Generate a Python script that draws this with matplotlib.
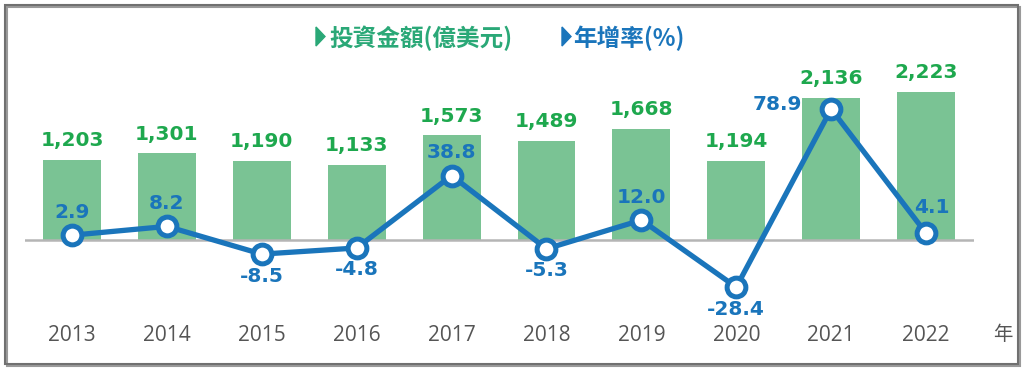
import matplotlib
matplotlib.use("Agg")
import matplotlib.pyplot as plt
from matplotlib.patches import Rectangle, Polygon

plt.rcParams['font.family'] = ['Noto Sans CJK TC', 'DejaVu Sans']

years = ['2013', '2014', '2015', '2016', '2017', '2018', '2019', '2020', '2021', '2022']
invest = [1203, 1301, 1190, 1133, 1573, 1489, 1668, 1194, 2136, 2223]
growth = [2.9, 8.2, -8.5, -4.8, 38.8, -5.3, 12.0, -28.4, 78.9, 4.1]
legend_labels = ['投資金額(億美元)', '年增率(%)']
unit_label = '年'

W, H = 1024, 371
fig = plt.figure(figsize=(W / 100, H / 100), dpi=100, facecolor='white')

BAR_C = '#7ac394'
BAR_TXT = '#1ea84e'
LINE_C = '#1a75bb'
LEG_G = '#2aa877'
YEAR_C = '#555555'


def fx(px):
    return px / W


def fy(py):
    return 1 - py / H


# frame with shadow
fig.patches.append(Rectangle((fx(7), fy(366)), 1013 / W, 359 / H,
                             transform=fig.transFigure, fill=False,
                             edgecolor='#9a9a9a', lw=1.5, zorder=0))
fig.patches.append(Rectangle((fx(5), fy(364)), 1013 / W, 359 / H,
                             transform=fig.transFigure, fill=False,
                             edgecolor='#707070', lw=1.5, zorder=0))

ax_l, ax_r = 24.6, 973.5
ax_t, ax_b = 60, 300
ax = fig.add_axes([fx(ax_l), fy(ax_b), (ax_r - ax_l) / W, (ax_b - ax_t) / H])
ax.patch.set_alpha(0)
bar_scale = 15.02
ax.set_ylim(-(ax_b - 240) * bar_scale, (240 - ax_t) * bar_scale)
ax.set_xlim(-0.5, len(years) - 0.5)
x = list(range(len(years)))
ax.bar(x, invest, width=0.61, color=BAR_C, zorder=1)
ax.axhline(0, color='#b5b5b5', lw=1.8, zorder=2)
for xi, v in zip(x, invest):
    ax.annotate(f'{v:,}', (xi, v), xytext=(0, 7), textcoords='offset points',
                ha='center', va='bottom', color=BAR_TXT, fontsize=14.5,
                fontweight='bold', family='DejaVu Sans')
ax.set_xticks(x)
ax.set_xticklabels(years, fontsize=15, color=YEAR_C, family='Open Sans')
ax.tick_params(axis='x', length=0, pad=18)
ax.set_yticks([])
for s in ax.spines.values():
    s.set_visible(False)

ax2 = ax.twinx()
ax2.patch.set_alpha(0)
line_scale = 1 / 1.66
ax2.set_ylim(-(ax_b - 240) * line_scale, (240 - ax_t) * line_scale)
ax2.plot(x, growth, color=LINE_C, lw=3.8, marker='o', markersize=13.5,
         markerfacecolor='white', markeredgecolor=LINE_C, markeredgewidth=3.6, zorder=5)
ax2.set_yticks([])
for s in ax2.spines.values():
    s.set_visible(False)
for i, (xi, v) in enumerate(zip(x, growth)):
    kw = dict(textcoords='offset points', color=LINE_C, fontsize=14.5,
              fontweight='bold', family='DejaVu Sans')
    if i == 8:
        ax2.annotate(f'{v:.1f}', (xi, v), xytext=(-21, 3), ha='right', va='center', **kw)
    elif v >= 0:
        dy = 12 if i == 9 else 9.5
        dx = 4 if i == 9 else 0
        ax2.annotate(f'{v:.1f}', (xi, v), xytext=(dx, dy), ha='center', va='bottom', **kw)
    else:
        ax2.annotate(f'{v:.1f}', (xi, v), xytext=(0, -9), ha='center', va='top', **kw)

fig.text(fx(1003), fy(334), unit_label, ha='center', va='center',
         fontsize=14, color=YEAR_C)

# legend
fig.patches.append(Polygon([(fx(316), fy(27)), (fx(316), fy(46)), (fx(325), fy(36.5))],
                           closed=True, transform=fig.transFigure, color=LEG_G))
fig.text(fx(329), fy(38), legend_labels[0], ha='left', va='center', fontsize=17,
         color=LEG_G, fontweight='bold')
fig.patches.append(Polygon([(fx(562), fy(27)), (fx(562), fy(46)), (fx(571), fy(36.5))],
                           closed=True, transform=fig.transFigure, color=LINE_C))
fig.text(fx(573), fy(38), legend_labels[1], ha='left', va='center', fontsize=17,
         color=LINE_C, fontweight='bold')

fig.savefig('out.png', dpi=100, facecolor='white')
